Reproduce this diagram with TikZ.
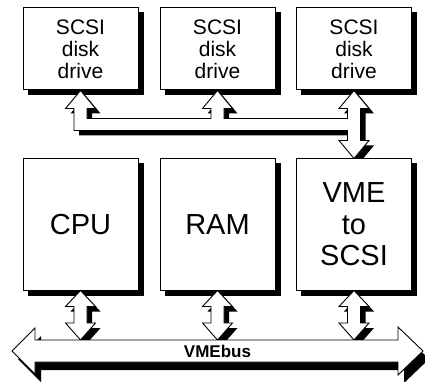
\documentclass[tikz,border=0pt]{standalone}
\usepackage{fontspec}
\setmainfont{Liberation Sans}
\usetikzlibrary{calc}
\pgfdeclarelayer{shadowlayer}
\pgfsetlayers{shadowlayer,main}

% pipe from the three disk drives down to the VME-to-SCSI board
\newcommand\diskpipe{(d1.south) -- ($(d1.south)+(15,18)$) -- ($(d1.south)+(6.5,18)$)
  -- ($(d1.south)+(6.5,28)$) -- ($(d2.south)+(-6.5,28)$) -- ($(d2.south)+(-6.5,18)$)
  -- ($(d2.south)+(-15,18)$) -- (d2.south) -- ($(d2.south)+(15,18)$) -- ($(d2.south)+(6.5,18)$)
  -- ($(d2.south)+(6.5,28)$) -- ($(d3.south)+(-6.5,28)$) -- ($(d3.south)+(-6.5,18)$)
  -- ($(d3.south)+(-15,18)$) -- (d3.south) -- ($(d3.south)+(15,18)$) -- ($(d3.south)+(6.5,18)$)
  -- ($(vme.north)+(6.5,-18)$) -- ($(vme.north)+(15,-18)$) -- (vme.north)
  -- ($(vme.north)+(-15,-18)$) -- ($(vme.north)+(-6.5,-18)$)
  -- ($(d3.south)+(-6.5,40)$) -- ($(d1.south)+(-6.5,40)$) -- ($(d1.south)+(-6.5,18)$)
  -- ($(d1.south)+(-15,18)$) -- cycle}

% vertical double arrow between a board and the bus
\newcommand\vdarrow[2]{(#1) -- ++(15,16) -- ++(-8.5,0) -- ($(#2)+(6.5,-17)$) -- ++(8.5,0)
  -- (#2) -- ++(-15,-17) -- ++(8.5,0) -- ($(#1)+(-6.5,16)$) -- ++(-8.5,0) -- cycle}

% the VMEbus itself
\newcommand\buspath{(busL) -- ++(23,-23) -- ++(0,12) -- ($(busR)+(-25,-11)$) -- ++(0,-13)
  -- (busR) -- ++(-25,24) -- ++(0,-13) -- ($(busL)+(23,11)$) -- ++(0,12) -- cycle}

\begin{document}
\begin{tikzpicture}[x=1pt,y=-1pt,line join=miter,
  box/.style={draw=black,fill=white,line width=1pt,inner sep=0pt,align=center},
  diskbox/.style={box,minimum width=115pt,minimum height=82pt,font=\fontsize{21}{22}\selectfont},
  unitbox/.style={box,minimum width=115pt,minimum height=131pt,font=\fontsize{29}{31.5}\selectfont},
  pipe/.style={draw=black,fill=white,line width=0.9pt},
  shade/.style={fill=black}]
\useasboundingbox (0,0) rectangle (425,382);

\node[diskbox] (d1) at (80.5,49) {SCSI\\disk\\drive};
\node[diskbox] (d2) at (217.5,49) {SCSI\\disk\\drive};
\node[diskbox] (d3) at (354,49) {SCSI\\disk\\drive};
\node[unitbox] (cpu) at (80.5,224.5) {CPU};
\node[unitbox] (ram) at (217.5,224.5) {RAM};
\node[unitbox] (vme) at (354,224.5) {VME\\to\\SCSI};

\coordinate (busL) at (12,351);
\coordinate (busR) at (423,351);
\coordinate (bustop) at (217.5,340);
\coordinate (b1) at (cpu.south |- bustop);
\coordinate (b2) at (ram.south |- bustop);
\coordinate (b3) at (vme.south |- bustop);

% drop shadows
\begin{pgfonlayer}{shadowlayer}
  \begin{scope}[transform canvas={shift={(5pt,-5pt)}}]
    \foreach \n in {d1,d2,d3,cpu,ram,vme}
      \fill[shade] (\n.south west) rectangle (\n.north east);
    \fill[shade] \diskpipe;
    \fill[shade] \vdarrow{cpu.south}{b1};
    \fill[shade] \vdarrow{ram.south}{b2};
    \fill[shade] \vdarrow{vme.south}{b3};
  \end{scope}
  \begin{scope}[transform canvas={shift={(6pt,-8pt)}}]
    \fill[shade] \buspath;
  \end{scope}
\end{pgfonlayer}

\draw[pipe] \diskpipe;
\draw[pipe] \vdarrow{cpu.south}{b1};
\draw[pipe] \vdarrow{ram.south}{b2};
\draw[pipe] \vdarrow{vme.south}{b3};
\draw[pipe] \buspath;
\node[font=\bfseries\fontsize{17}{17}\selectfont] (bus) at (217.5,351) {VMEbus};
\end{tikzpicture}
\end{document}
